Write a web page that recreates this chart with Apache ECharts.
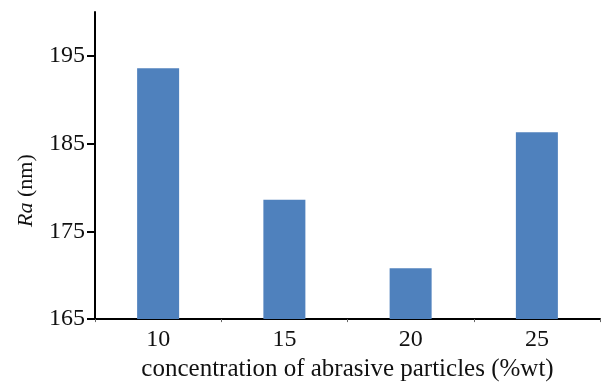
<!DOCTYPE html>
<html>
<head>
<meta charset="utf-8">
<script src="https://cdn.jsdelivr.net/npm/echarts@6/dist/echarts.min.js"></script>
<style>
html,body{margin:0;padding:0;background:#fff;}
#chart{width:606px;height:387px;}
</style>
</head>
<body>
<div id="chart"></div>
<script>
const categories = ['10', '15', '20', '25'];
const raValues = [193.6, 178.6, 170.8, 186.3];
const yTicks = [165, 175, 185, 195];
const yMin = 165;
const yMax = 200;

const chart = echarts.init(document.getElementById('chart'));
const font = 'Liberation Serif';
chart.setOption({
  animation: false,
  grid: {left: 95, right: 6, top: 12, bottom: 66},
  xAxis: {
    type: 'category',
    data: categories,
    name: 'concentration of abrasive particles (%wt)',
    nameLocation: 'middle',
    nameGap: 35,
    nameTextStyle: {fontFamily: font, fontSize: 25, color: '#111'},
    axisLine: {lineStyle: {color: '#000', width: 2}},
    axisTick: {show: true, length: 3, lineStyle: {color: '#666', width: 1}},
    axisLabel: {fontFamily: font, fontSize: 24, color: '#111', margin: 9}
  },
  yAxis: {
    type: 'value',
    min: yMin,
    max: yMax,
    name: '{i|Ra} (nm)',
    nameLocation: 'middle',
    nameGap: 58,
    nameTextStyle: {
      fontFamily: font, fontSize: 22, color: '#111',
      padding: [0, 50, 0, 0],
      rich: {i: {fontFamily: font, fontSize: 22, fontStyle: 'italic', color: '#111'}}
    },
    splitLine: {show: false},
    axisLine: {show: true, lineStyle: {color: '#000', width: 2}},
    axisTick: {show: true, length: 8, customValues: yTicks, lineStyle: {color: '#000', width: 2}},
    axisLabel: {fontFamily: font, fontSize: 24, color: '#111', margin: 10, customValues: yTicks}
  },
  series: [{
    type: 'bar',
    data: raValues,
    barWidth: 42,
    itemStyle: {color: '#4F81BD'}
  }]
});
</script>
</body>
</html>
